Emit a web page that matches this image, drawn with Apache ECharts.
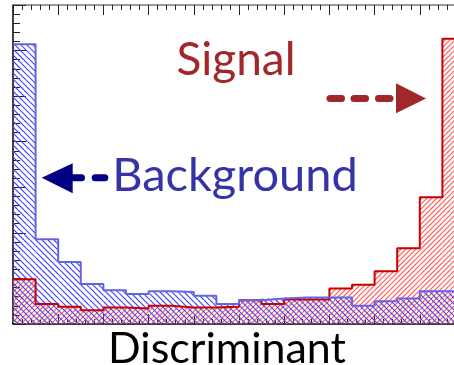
<!DOCTYPE html>
<html>
<head>
<meta charset="utf-8">
<script src="https://cdn.jsdelivr.net/npm/echarts@6/dist/echarts.min.js"></script>
<style>
  html, body {margin: 0; padding: 0; background: #fff;}
  #chart {width: 454px; height: 365px;}
</style>
</head>
<body>
<div id="chart"></div>
<script>
// histogram: 20 bins on [0, 1]
const binWidth = 0.05;
const background = [
  0.307, 0.093, 0.068, 0.044, 0.037, 0.033, 0.036, 0.035, 0.031, 0.022,
  0.026, 0.028, 0.029, 0.029, 0.029, 0.020, 0.025, 0.028, 0.036, 0.036
];
const signal = [
  0.049, 0.022, 0.019, 0.015, 0.018, 0.017, 0.020, 0.018, 0.018, 0.019,
  0.026, 0.022, 0.027, 0.027, 0.039, 0.043, 0.058, 0.083, 0.139, 0.313
];

function hatch(color, dir) {
  const c = document.createElement('canvas');
  c.width = 30; c.height = 30;
  const g = c.getContext('2d');
  g.strokeStyle = color;
  g.lineWidth = 1.2;
  const step = dir > 0 ? 5 : 6;
  for (let k = -30; k <= 60; k += step) {
    g.beginPath();
    if (dir > 0) { g.moveTo(k, 30); g.lineTo(k + 30, 0); }
    else { g.moveTo(k, 0); g.lineTo(k + 30, 30); }
    g.stroke();
  }
  return {image: c, repeat: 'repeat'};
}

const redFill = hatch('#ff5a5a', 1);
const blueFill = hatch('#4848ee', -1);

function fillSeries(values, pattern) {
  return {
    type: 'custom',
    data: values.map((v, i) => [i * binWidth, v]),
    encode: {x: 0, y: 1},
    renderItem(params, api) {
      const x0 = api.value(0);
      const p0 = api.coord([x0, api.value(1)]);
      const p1 = api.coord([x0 + binWidth, 0]);
      return {
        type: 'rect',
        shape: {x: p0[0], y: p0[1], width: p1[0] - p0[0], height: p1[1] - p0[1]},
        style: {fill: pattern}
      };
    },
    silent: true
  };
}

function outline(values, color) {
  const pts = values.map((v, i) => [i * binWidth, v]);
  pts.push([values.length * binWidth, values[values.length - 1]]);
  return {
    type: 'line',
    step: 'end',
    data: pts,
    symbol: 'none',
    lineStyle: {color: color, width: 2},
    z: 5
  };
}

const axisBase = {
  type: 'value',
  min: 0,
  max: 1,
  interval: 0.1,
  axisTick: {inside: true, length: 10, lineStyle: {color: '#222'}},
  minorTick: {show: true, splitNumber: 5, length: 5, lineStyle: {color: '#222'}},
  axisLabel: {show: false},
  splitLine: {show: false}
};

const chart = echarts.init(document.getElementById('chart'));
chart.setOption({
  animation: false,
  // the frame runs past the right edge of the picture
  grid: {left: 13, top: 5, width: 452, bottom: 41, outerBoundsMode: 'none'},
  xAxis: [
    Object.assign({}, axisBase, {position: 'bottom', axisLine: {lineStyle: {color: '#000', width: 1.5}}}),
    Object.assign({}, axisBase, {position: 'top', axisLine: {lineStyle: {color: '#777', width: 1.5}}})
  ],
  yAxis: {
    type: 'value',
    min: 0,
    max: 0.35,
    interval: 0.05,
    axisLine: {show: true, lineStyle: {color: '#000', width: 1.5}},
    axisTick: {show: true, inside: true, length: 13, lineStyle: {color: '#222'}},
    minorTick: {show: true, splitNumber: 5, length: 7, lineStyle: {color: '#222'}},
    axisLabel: {show: false},
    splitLine: {show: false}
  },
  series: [
    fillSeries(signal, redFill),
    fillSeries(background, blueFill),
    outline(signal, '#c80000'),
    outline(background, '#6464e6')
  ],
  graphic: [
    {type: 'text', x: 227, y: 349, style: {text: 'Discriminant', fill: '#000', font: '43px Lato', textAlign: 'center', textVerticalAlign: 'middle'}},
    {type: 'text', x: 236, y: 60, style: {text: 'Signal', fill: '#a0282a', font: '46px Lato', textAlign: 'center', textVerticalAlign: 'middle'}},
    {type: 'text', x: 235, y: 176, style: {text: 'Background', fill: '#3434a8', font: '47px Lato', textAlign: 'center', textVerticalAlign: 'middle'}},
    // red arrow pointing right
    {type: 'line', shape: {x1: 330, y1: 98.5, x2: 341.5, y2: 98.5}, style: {stroke: '#a0282a', lineWidth: 7, lineCap: 'round'}},
    {type: 'line', shape: {x1: 354, y1: 98.5, x2: 365.5, y2: 98.5}, style: {stroke: '#a0282a', lineWidth: 7, lineCap: 'round'}},
    {type: 'line', shape: {x1: 378.5, y1: 98.5, x2: 390, y2: 98.5}, style: {stroke: '#a0282a', lineWidth: 7, lineCap: 'round'}},
    {type: 'polygon', shape: {points: [[396, 83.3], [426, 98.5], [396, 113.3]]}, style: {fill: '#a0282a'}},
    // blue arrow pointing left
    {type: 'polygon', shape: {points: [[41.7, 177.7], [72.7, 163.3], [72.7, 193.3]]}, style: {fill: '#000080'}},
    {type: 'line', shape: {x1: 70, y1: 177.7, x2: 81.5, y2: 177.7}, style: {stroke: '#000080', lineWidth: 7, lineCap: 'round'}},
    {type: 'line', shape: {x1: 95.2, y1: 177.7, x2: 104.8, y2: 177.7}, style: {stroke: '#000080', lineWidth: 7, lineCap: 'round'}}
  ]
});
</script>
</body>
</html>
